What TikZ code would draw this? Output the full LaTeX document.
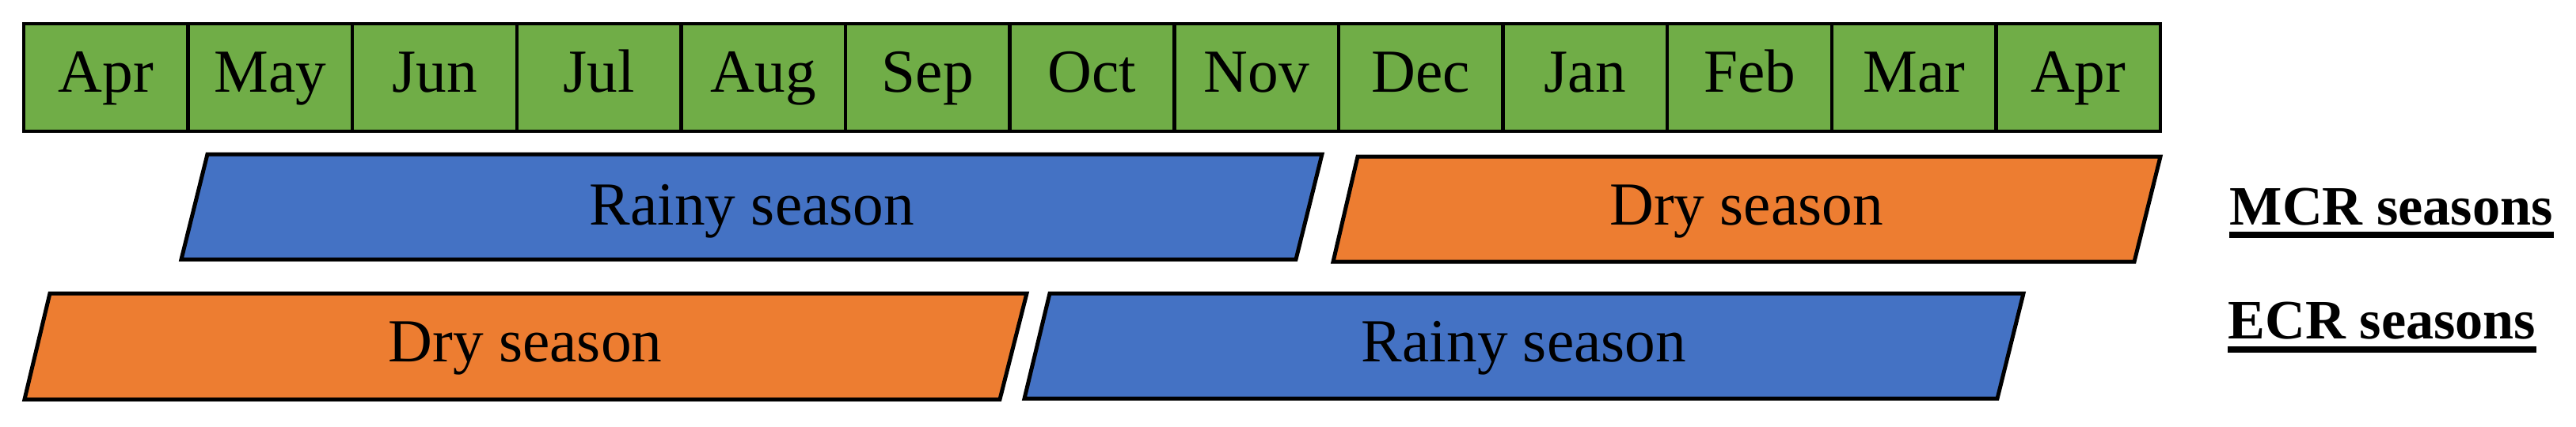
\documentclass[tikz,border=0pt]{standalone}
\usepackage{fontspec}
\setmainfont{Liberation Serif}
\usepackage{tikz}
\usetikzlibrary{positioning}
\definecolor{monthgreen}{HTML}{70AD47}
\definecolor{rainyblue}{HTML}{4472C4}
\definecolor{dryorange}{HTML}{ED7D31}

\begin{document}
\begin{tikzpicture}[
  month/.style={draw, line width=0.045cm, fill=monthgreen, minimum width=2.0762cm,
                inner sep=0pt, outer sep=0pt, anchor=base,
                font=\fontsize{22}{26}\selectfont, text height=0.86cm, text depth=0.50cm},
  rainy/.style={draw, line width=0.05cm, fill=rainyblue},
  dry/.style={draw, line width=0.05cm, fill=dryorange},
  season/.style={font=\fontsize{22}{26}\selectfont, inner sep=0pt, anchor=base},
  region/.style={font=\fontsize{20}{24}\selectfont\bfseries,
                 inner sep=0pt, anchor=base west},
  uline/.style={line width=0.08cm},
]
  \useasboundingbox (0,0) rectangle (32.54,-5.39);

  % month strip
  \foreach \mon [count=\i] in {Apr,May,Jun,Jul,Aug,Sep,Oct,Nov,Dec,Jan,Feb,Mar,Apr}
    \node[month] (m\i) at ({0.30+(\i-0.5)*2.0762},-1.16) {\mon};

  % MCR seasons
  \draw[rainy] (2.62,-1.95) -- (16.70,-1.95) -- (16.37,-3.28) -- (2.29,-3.28) -- cycle;
  \node[season] (mcrrainy) at (9.50,-2.84) {Rainy season};
  \draw[dry] (17.15,-1.98) -- (27.29,-1.98) -- (26.96,-3.31) -- (16.84,-3.31) -- cycle;
  \node[season] (mcrdry) at (22.06,-2.84) {Dry season};

  % ECR seasons
  \draw[dry] (0.63,-3.71) -- (12.97,-3.71) -- (12.63,-5.05) -- (0.31,-5.05) -- cycle;
  \node[season] (ecrdry) at (6.635,-4.57) {Dry season};
  \draw[rainy] (13.26,-3.71) -- (25.56,-3.71) -- (25.23,-5.04) -- (12.94,-5.04) -- cycle;
  \node[season] (ecrrainy) at (19.25,-4.57) {Rainy season};

  % row labels
  \node[region] (mcr) at (28.16,-2.84) {MCR seasons};
  \draw[uline] ([yshift=-0.13cm]mcr.base west) -- ([yshift=-0.13cm]mcr.base east);
  \node[region] (ecr) at (28.14,-4.28) {ECR seasons};
  \draw[uline] ([yshift=-0.135cm]ecr.base west) -- ([yshift=-0.135cm]ecr.base east);
\end{tikzpicture}
\end{document}
